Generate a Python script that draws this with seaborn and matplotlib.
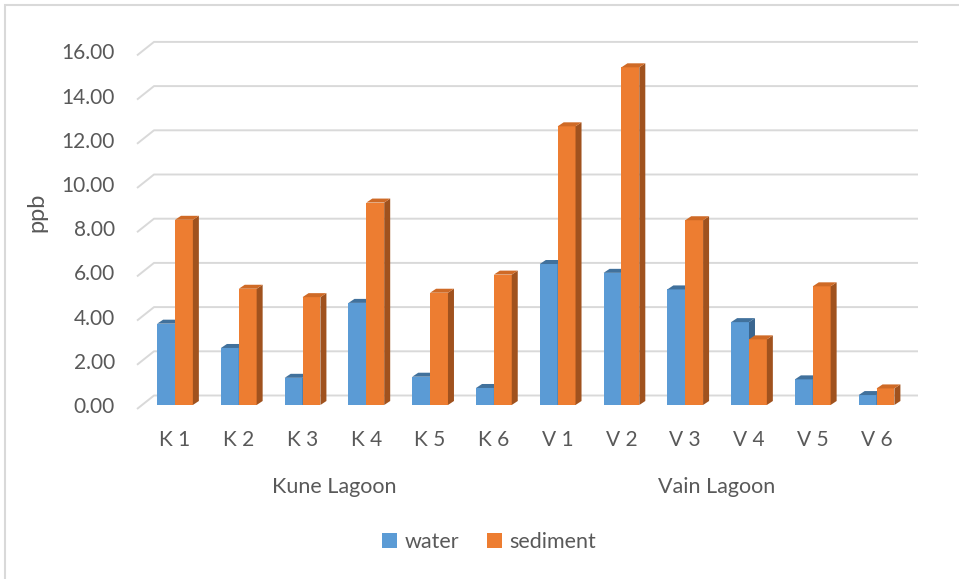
import numpy as np
import pandas as pd
import seaborn as sns
import matplotlib.pyplot as plt
from matplotlib.patches import Polygon, Patch, Rectangle
from matplotlib.transforms import blended_transform_factory

# --- data -------------------------------------------------------------
sites = ["K 1", "K 2", "K 3", "K 4", "K 5", "K 6",
         "V 1", "V 2", "V 3", "V 4", "V 5", "V 6"]
water = [3.68, 2.58, 1.23, 4.62, 1.28, 0.77, 6.38, 5.98, 5.23, 3.75, 1.16, 0.45]
sediment = [8.38, 5.26, 4.88, 9.16, 5.08, 5.90, 12.61, 15.28, 8.36, 2.97, 5.37, 0.75]
series = ["water", "sediment"]
lagoons = ["Kune Lagoon", "Vain Lagoon"]
lagoon_centres = [2.5, 8.5]
yticks = [0, 2, 4, 6, 8, 10, 12, 14, 16]

df = pd.DataFrame({
    "site": sites * 2,
    "ppb": water + sediment,
    "series": ["water"] * len(sites) + ["sediment"] * len(sites),
})

# --- style --------------------------------------------------------------
sns.set_style("white")
plt.rcParams["font.family"] = ["Lato", "DejaVu Sans"]
TXT = "#595959"
GRID = "#D9D9D9"
FS = 15
front = {"water": "#5B9BD5", "sediment": "#ED7D31"}
top = {"water": "#41719C", "sediment": "#CF6A26"}
side = {"water": "#3A6690", "sediment": "#A0521E"}

W, H = 959, 579
fig = plt.figure(figsize=(W / 100, H / 100), dpi=100)
fig.patch.set_facecolor("white")

# plotting area (pixel geometry of the front plane)
L, R, B, T = 137, 918, 405, 25
ppu_y = 22.1
ax = fig.add_axes([L / W, (H - B) / H, (R - L) / W, (B - T) / H])

sns.barplot(data=df, x="site", y="ppb", hue="series", order=sites,
            hue_order=series, palette=[front[s] for s in series],
            width=0.56, saturation=1, linewidth=0, legend=False, ax=ax)

xmin, xmax = -0.596, 11.65
ax.set_xlim(xmin, xmax)
ax.set_ylim(0, (B - T) / ppu_y)
ppu_x = (R - L) / (xmax - xmin)

# depth of the bars (pseudo 3-D)
dx, dy = 6 / ppu_x, 4 / ppu_y
for k, (name, cont) in enumerate(zip(series, ax.containers)):
    base_z = 3 + k * 0.2
    for p in cont.patches:
        p.set_zorder(base_z)
        x0 = p.get_x()
        x1 = x0 + p.get_width()
        h = p.get_height()
        ax.add_patch(Polygon([(x1, 0), (x1 + dx, dy), (x1 + dx, h + dy), (x1, h)],
                             closed=True, fc=side[name], ec="none", zorder=base_z + 0.1))
        ax.add_patch(Polygon([(x0, h), (x0 + dx, h + dy), (x1 + dx, h + dy), (x1, h)],
                             closed=True, fc=top[name], ec="none", zorder=base_z + 0.1))

# back-wall gridlines with the slanted floor edge on the left
back_off = 9.5 / ppu_y
front_off = -4 / ppu_y
xb = xmin + 17 / ppu_x
for v in yticks:
    ax.plot([xmin, xb, xmax], [v + front_off, v + back_off, v + back_off],
            color=GRID, lw=1.4, zorder=0.5, clip_on=False,
            solid_capstyle="butt")

# axes cosmetics
for s in ax.spines.values():
    s.set_visible(False)
ax.set_yticks(yticks)
ax.set_yticklabels([f"{v:.2f}" for v in yticks])
ax.tick_params(axis="y", length=0, pad=16, labelsize=FS, labelcolor=TXT)
ax.tick_params(axis="x", length=0, pad=18, labelsize=FS, labelcolor=TXT)
ax.set_xlabel("")
ax.set_ylabel("")

fig.text(37 / W, 1 - 212 / H, "ppb", rotation=90, ha="center", va="center",
         fontsize=17, color=TXT)

trans = blended_transform_factory(ax.transData, fig.transFigure)
for name, xc in zip(lagoons, lagoon_centres):
    ax.text(xc, 1 - 487 / H, name, transform=trans, ha="center", va="center",
            fontsize=FS + 0.5, color=TXT)

handles = [Patch(fc=front[s], ec="none") for s in series]
fig.legend(handles, series, loc="center", bbox_to_anchor=(489 / W, 1 - 542 / H),
           ncol=2, frameon=False, handlelength=0.7, handleheight=0.7,
           handletextpad=0.35, columnspacing=1.3, fontsize=FS + 0.5,
           labelcolor=TXT)

# chart-area border
fig.patches.append(Rectangle((5 / W, -0.1), 1.2, 1.1 - 5 / H,
                             transform=fig.transFigure, fill=False,
                             ec=GRID, lw=1.5))

fig.savefig("out.png", dpi=100, facecolor="white")
